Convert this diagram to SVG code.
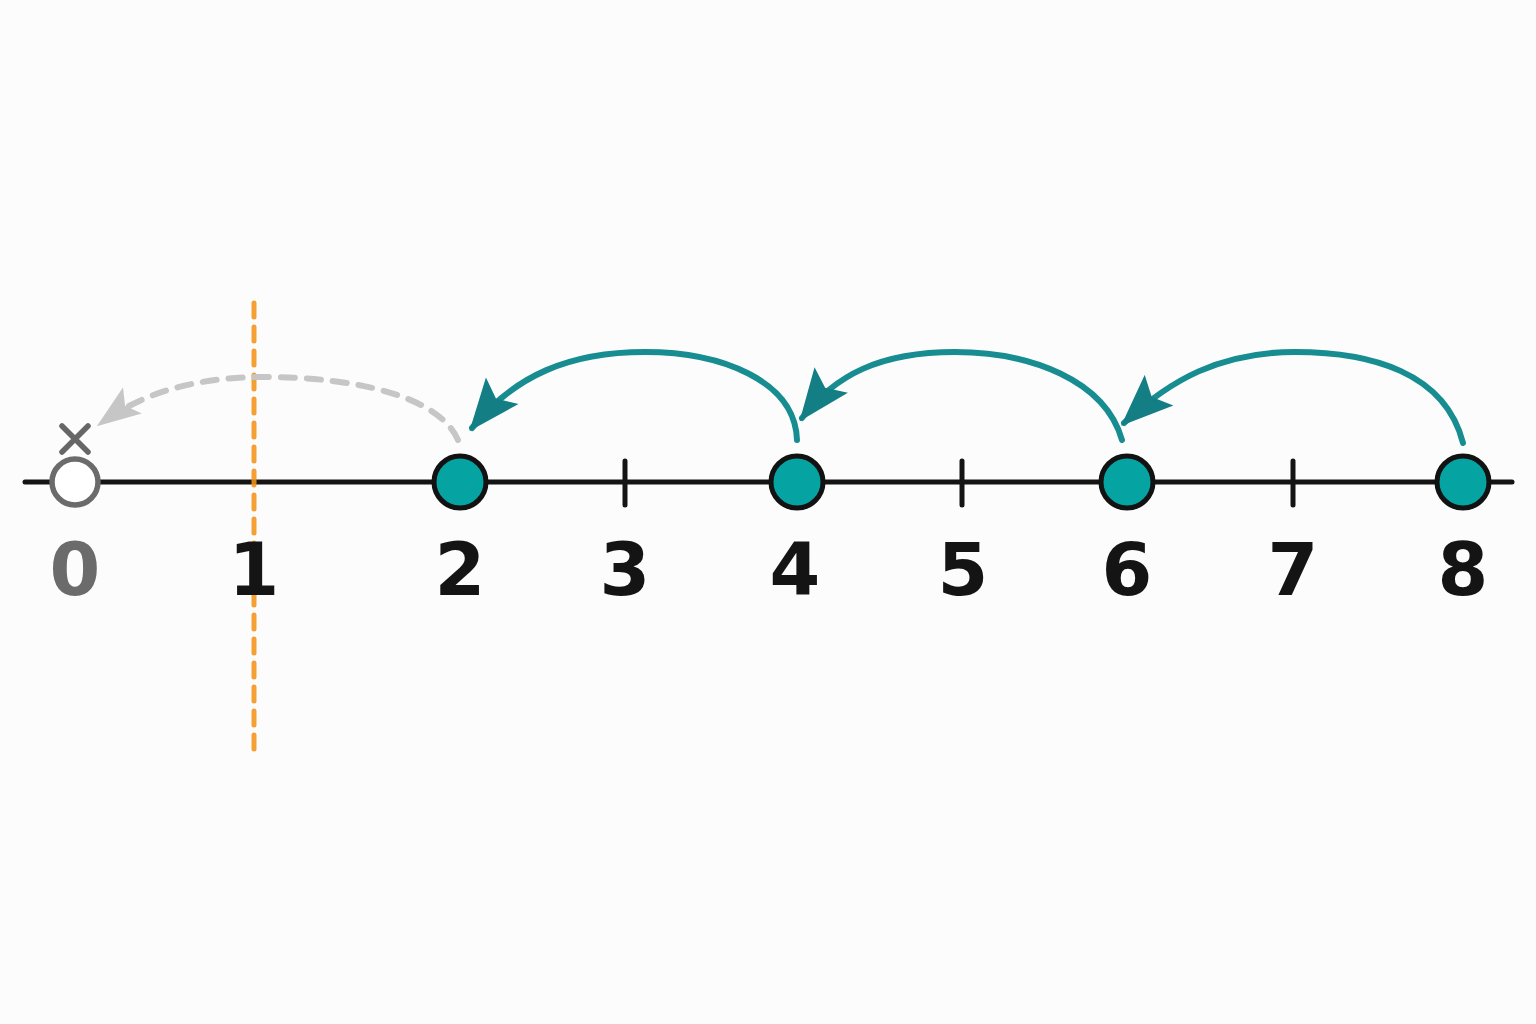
<svg xmlns="http://www.w3.org/2000/svg" width="1536" height="1024" viewBox="0 0 1536 1024">
<style>
.lbl{font-family:"DejaVu Sans","Liberation Sans",sans-serif;font-weight:bold;font-size:73px;text-anchor:middle;fill:#141414}
.hop{fill:none;stroke:#178d91;stroke-width:6;stroke-linecap:round}
.pt{fill:#06a3a3;stroke:#121212;stroke-width:5}
.tick{stroke:#141414;stroke-width:5;stroke-linecap:round}
</style>
<defs>
<marker id="ah" markerUnits="userSpaceOnUse" viewBox="0 0 52 44" refX="48" refY="22" markerWidth="52" markerHeight="44" orient="auto">
<path d="M0,1 L52,22 L0,43 L10,22 Z" fill="#137f85"/>
</marker>
<marker id="ahg" markerUnits="userSpaceOnUse" viewBox="0 0 44 34" refX="40" refY="17" markerWidth="44" markerHeight="34" orient="auto">
<path d="M0,1 L44,17 L0,33 L9,17 Z" fill="#c6c6c6"/>
</marker>
</defs>
<rect width="1536" height="1024" fill="#fcfcfc"/>
<g id="axis">
<line x1="25" y1="482" x2="1512" y2="482" stroke="#141414" stroke-width="5" stroke-linecap="round"/>
<line class="tick" x1="625" y1="461" x2="625" y2="505"/>
<line class="tick" x1="962" y1="461" x2="962" y2="505"/>
<line class="tick" x1="1293" y1="461" x2="1293" y2="505"/>
</g>
<g id="boundary">
<line x1="254" y1="303" x2="254" y2="750" stroke="#f39418" stroke-width="5" stroke-dasharray="14 10" stroke-linecap="round" opacity="0.88"/>
</g>
<g id="connectors">
<path d="M458,440 C440,398 360,377 265,377 C190,377 140,395 100,424" fill="none" stroke="#c6c6c6" stroke-width="6" stroke-dasharray="14 12" stroke-linecap="round" marker-end="url(#ahg)"/>
<path class="hop" d="M797,440 C795,380 720,352 645,352 C570,352 515,375 472,428" marker-end="url(#ah)"/>
<path class="hop" d="M1122,440 C1105,380 1030,352 955,352 C880,352 835,375 802,418" marker-end="url(#ah)"/>
<path class="hop" d="M1463,443 C1445,372 1370,352 1295,352 C1220,352 1170,380 1124,423" marker-end="url(#ah)"/>
</g>
<g id="n0">
<circle cx="75" cy="482" r="23" fill="#ffffff" stroke="#6b6b6b" stroke-width="5.5"/>
<path d="M62,426 L88,452 M88,426 L62,452" stroke="#666" stroke-width="5.5" stroke-linecap="round"/>
<text class="lbl" x="75" y="595" style="fill:#6b6b6b">0</text>
</g>
<g id="n1"><text class="lbl" x="254" y="595">1</text></g>
<g id="n2"><circle class="pt" cx="460" cy="482" r="26"/><text class="lbl" x="460" y="595">2</text></g>
<g id="n3"><text class="lbl" x="625" y="595">3</text></g>
<g id="n4"><circle class="pt" cx="797" cy="482" r="26"/><text class="lbl" x="795" y="595">4</text></g>
<g id="n5"><text class="lbl" x="963" y="595">5</text></g>
<g id="n6"><circle class="pt" cx="1127" cy="482" r="26"/><text class="lbl" x="1127" y="595">6</text></g>
<g id="n7"><text class="lbl" x="1293" y="595">7</text></g>
<g id="n8"><circle class="pt" cx="1463" cy="482" r="26"/><text class="lbl" x="1463" y="595">8</text></g>
</svg>
